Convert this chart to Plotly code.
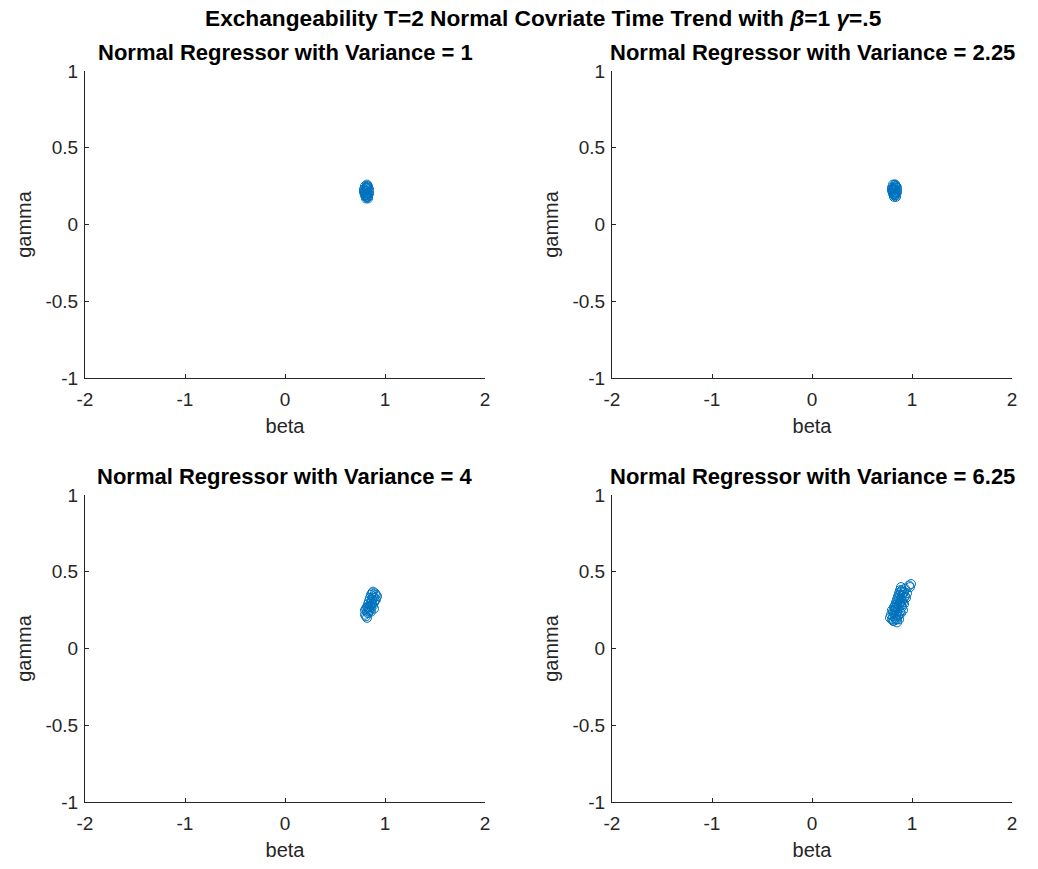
import plotly.graph_objects as go

# ---- data ----
beta_v1 = [0.80, 0.82, 0.81, 0.83, 0.79, 0.82, 0.84, 0.80, 0.81, 0.83, 0.82, 0.80, 0.81, 0.84, 0.82,
           0.79, 0.83, 0.81, 0.82, 0.80, 0.83, 0.81, 0.82, 0.84, 0.80, 0.82, 0.81, 0.83, 0.79, 0.82]
gamma_v1 = [0.20, 0.22, 0.18, 0.24, 0.21, 0.19, 0.23, 0.25, 0.17, 0.20, 0.26, 0.22, 0.19, 0.21, 0.18,
            0.23, 0.25, 0.24, 0.20, 0.19, 0.17, 0.22, 0.24, 0.20, 0.21, 0.23, 0.19, 0.18, 0.22, 0.25]

beta_v225 = [0.81, 0.83, 0.82, 0.84, 0.80, 0.83, 0.85, 0.81, 0.82, 0.84, 0.83, 0.81, 0.82, 0.85, 0.83,
             0.80, 0.84, 0.82, 0.83, 0.81, 0.84, 0.82, 0.83, 0.85, 0.81, 0.83, 0.82, 0.84, 0.80, 0.83]
gamma_v225 = [0.21, 0.23, 0.19, 0.25, 0.22, 0.20, 0.24, 0.26, 0.18, 0.21, 0.26, 0.23, 0.20, 0.22, 0.19,
              0.24, 0.25, 0.24, 0.21, 0.20, 0.18, 0.23, 0.25, 0.21, 0.22, 0.24, 0.20, 0.19, 0.23, 0.26]

beta_v4 = [0.80, 0.81, 0.82, 0.80, 0.83, 0.82, 0.84, 0.83, 0.85, 0.84, 0.86, 0.85, 0.87, 0.88, 0.86,
           0.89, 0.90, 0.88, 0.91, 0.90, 0.87, 0.86, 0.84, 0.81, 0.89, 0.91, 0.85, 0.83, 0.88, 0.87,
           0.82, 0.86, 0.89, 0.92]
gamma_v4 = [0.22, 0.21, 0.24, 0.25, 0.23, 0.27, 0.26, 0.29, 0.28, 0.31, 0.30, 0.33, 0.32, 0.34, 0.35,
            0.33, 0.36, 0.37, 0.35, 0.31, 0.29, 0.27, 0.24, 0.26, 0.30, 0.32, 0.25, 0.27, 0.28, 0.36,
            0.20, 0.24, 0.26, 0.34]

beta_v625 = [0.80, 0.82, 0.81, 0.83, 0.79, 0.82, 0.84, 0.83, 0.85, 0.84, 0.86, 0.85, 0.87, 0.86, 0.88,
             0.87, 0.89, 0.88, 0.90, 0.89, 0.91, 0.90, 0.92, 0.93, 0.97, 0.99, 0.98, 0.86, 0.88, 0.90,
             0.91, 0.92, 0.85, 0.81, 0.83, 0.85, 0.87, 0.89, 0.84, 0.87, 0.78, 0.80, 0.82, 0.84,
             0.86, 0.88, 0.90, 0.92, 0.94, 0.95, 0.93, 0.91, 0.89, 0.87, 0.85, 0.83, 0.81, 0.89]
gamma_v625 = [0.19, 0.18, 0.21, 0.20, 0.22, 0.23, 0.22, 0.25, 0.24, 0.27, 0.26, 0.29, 0.28, 0.31, 0.30,
              0.33, 0.32, 0.35, 0.34, 0.37, 0.36, 0.38, 0.37, 0.39, 0.41, 0.42, 0.40, 0.21, 0.24, 0.27,
              0.30, 0.33, 0.19, 0.24, 0.28, 0.32, 0.36, 0.28, 0.19, 0.22, 0.20, 0.25, 0.27, 0.30,
              0.34, 0.38, 0.31, 0.29, 0.33, 0.36, 0.34, 0.25, 0.23, 0.19, 0.17, 0.26, 0.18, 0.40]

panel_titles = ["Normal Regressor with Variance = 1", "Normal Regressor with Variance = 2.25",
                "Normal Regressor with Variance = 4", "Normal Regressor with Variance = 6.25"]
x_tick_vals = [-2, -1, 0, 1, 2]
x_tick_text = ["-2", "-1", "0", "1", "2"]
y_tick_vals = [-1, -0.5, 0, 0.5, 1]
y_tick_text = ["-1", "-0.5", "0", "0.5", "1"]

W, H = 1038, 869
BLUE = "#0072BD"
AX = "#262626"
FONT = "Liberation Sans, Arial, Helvetica, sans-serif"

series = [(beta_v1, gamma_v1), (beta_v225, gamma_v225), (beta_v4, gamma_v4), (beta_v625, gamma_v625)]

# pixel boxes of the four axes (left, right, top, bottom)
boxes = [(85, 485, 71, 378), (612, 1012, 71, 378), (85, 485, 495, 802), (612, 1012, 495, 802)]

fig = go.Figure()
layout = dict(
    width=W, height=H, margin=dict(l=0, r=0, t=0, b=0, autoexpand=False),
    paper_bgcolor="white", plot_bgcolor="white", showlegend=False,
    font=dict(family=FONT, color=AX),
)
annotations = []
for i, ((bx, gy), (l, r, t, b)) in enumerate(zip(series, boxes)):
    n = "" if i == 0 else str(i + 1)
    fig.add_trace(go.Scatter(
        x=bx, y=gy, mode="markers", xaxis="x" + n, yaxis="y" + n,
        marker=dict(symbol="circle-open", size=9, color=BLUE, line=dict(width=1, color=BLUE)),
        hoverinfo="skip"))
    layout["xaxis" + n] = dict(
        domain=[l / W, r / W], anchor="y" + n, range=[-2, 2], tickvals=x_tick_vals,
        ticktext=x_tick_text, automargin=False,
        ticks="inside", ticklen=4, tickcolor=AX, showline=True, linecolor=AX, linewidth=1,
        showgrid=False, zeroline=False, tickfont=dict(size=19, color=AX, family=FONT),
        ticklabelstandoff=4,
        title=dict(text="beta", font=dict(size=20, color=AX, family=FONT), standoff=10))
    layout["yaxis" + n] = dict(
        domain=[1 - b / H, 1 - t / H], anchor="x" + n, range=[-1, 1], tickvals=y_tick_vals,
        ticktext=y_tick_text, automargin=False,
        ticks="inside", ticklen=4, tickcolor=AX, showline=True, linecolor=AX, linewidth=1,
        showgrid=False, zeroline=False, tickfont=dict(size=19, color=AX, family=FONT),
        ticklabelstandoff=2,
        title=dict(text="gamma", font=dict(size=20, color=AX, family=FONT), standoff=8))
    annotations.append(dict(
        text="<b>" + panel_titles[i] + "</b>", x=(l + r) / 2 / W, y=1 - (t - 4) / H,
        xref="paper", yref="paper", xanchor="center", yanchor="bottom", showarrow=False,
        font=dict(size=22, color="black", family=FONT)))

annotations.append(dict(
    text="<b>Exchangeability T=2 Normal Covriate Time Trend with <i>β</i>=1 <i>γ</i>=.5</b>",
    x=543 / W, y=1 - 18 / H, xref="paper", yref="paper", xanchor="center", yanchor="middle",
    showarrow=False, font=dict(size=22.7, color="black", family=FONT)))
layout["annotations"] = annotations
fig.update_layout(**layout)
fig.write_html("out.html", config={"displayModeBar": False},
               post_script="document.body.style.margin='0px';")
